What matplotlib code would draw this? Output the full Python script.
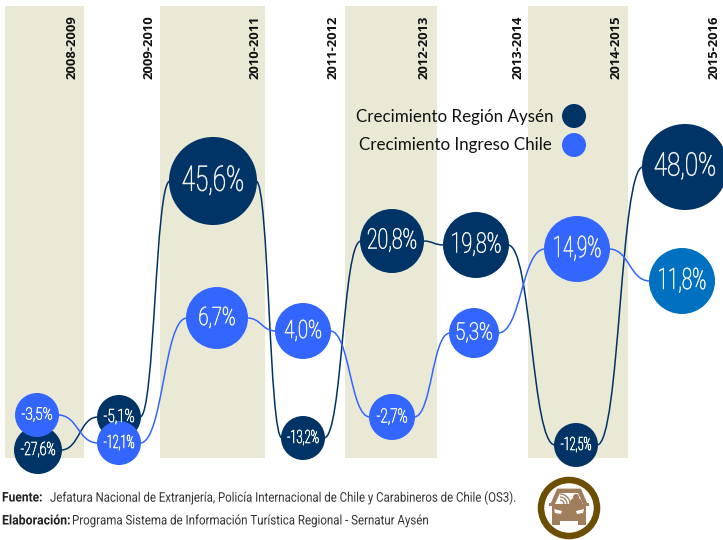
import matplotlib
matplotlib.use("Agg")
import matplotlib.pyplot as plt
from matplotlib.font_manager import FontProperties
from matplotlib.patches import Circle, Rectangle, PathPatch, FancyBboxPatch, Polygon, Wedge, Arc
from matplotlib.patheffects import AbstractPathEffect
from matplotlib.path import Path
from matplotlib.text import Text
from matplotlib.textpath import TextPath
from matplotlib.transforms import Affine2D, Bbox

periods = ["2008-2009", "2009-2010", "2010-2011", "2011-2012", "2012-2013", "2013-2014", "2014-2015", "2015-2016"]
aysen_labels = ["-27,6%", "-5,1%", "45,6%", "-13,2%", "20,8%", "19,8%", "-12,5%", "48,0%"]
chile_labels = ["-3,5%", "-12,1%", "6,7%", "4,0%", "-2,7%", "5,3%", "14,9%", "11,8%"]
# positions (chart is not on a linear value scale)
aysen_x = [38, 119, 213, 303, 392, 476, 576, 685]
aysen_level = [450, 417, 181, 438, 241, 245, 445, 167]
aysen_r = [24, 22, 44, 22, 32, 33, 22, 43]
aysen_text_h = [13, 13, 25, 13, 20, 20, 13, 23]
aysen_text_w = [34, 30, 60, 31, 48, 48, 30, 60]
chile_x = [37, 119, 217, 303, 392, 474, 577, 682]
chile_level = [415, 443, 318, 331, 417, 333, 249, 281]
chile_r = [22, 22, 31, 28, 23, 25, 33, 33]
chile_text_h = [12, 13, 18, 18, 14, 17, 21, 21]
chile_text_w = [30, 30, 35, 36, 30, 35, 46, 46]
band_edges = [(5, 84), (160, 265), (345, 437), (528, 628)]
period_x = [72, 149, 255, 333, 424, 518, 616, 714]

NAVY = "#003366"
BLUE = "#3366FF"
TEAL = "#0070C0"
BAND = "#EAE9D6"
LABEL = "#F2F4EE"
FONT = "Roboto"


class Squeeze(AbstractPathEffect):
    """Narrows a real text horizontally around a pixel anchor (no condensed font is installed)."""

    def __init__(self, anchor, sx, stroke=0.0):
        super().__init__()
        self.anchor, self.sx, self.stroke = anchor, sx, stroke

    def draw_path(self, renderer, gc, tpath, affine, rgbFace=None):
        t = Affine2D().translate(-self.anchor, 0).scale(self.sx, 1).translate(self.anchor, 0)
        g = renderer.new_gc()
        g.copy_properties(gc)
        if self.stroke:
            g.set_foreground(rgbFace)
            g.set_linewidth(self.stroke)
        renderer.draw_path(g, tpath, affine + t, rgbFace)
        g.restore()


class NarrowText(Text):
    """Text whose reported extent matches its squeezed drawing."""

    def get_window_extent(self, renderer=None, dpi=None):
        b = super().get_window_extent(renderer, dpi)
        a, s = self.narrow_anchor, self.narrow_sx
        return Bbox.from_extents(a + (b.x0 - a) * s, b.y0, a + (b.x1 - a) * s, b.y1)


def narrow_text(x, y, s, px_w, pt, ha="left", weight="normal", color="#333333", z=6, stroke=0.0):
    fp = FontProperties(family=FONT, weight=weight, size=pt)
    natural = TextPath((0, 0), s, prop=fp).get_extents().width * 100 / 72
    sx = px_w / natural
    t = NarrowText(x, y, s, fontproperties=fp, ha=ha, va="center", color=color, zorder=z,
                   path_effects=[Squeeze(x, sx, stroke)])
    t.narrow_anchor, t.narrow_sx = x, sx
    ax.add_artist(t)


fig = plt.figure(figsize=(7.23, 5.40), dpi=100)
ax = fig.add_axes([0, 0, 1, 1])
ax.set_xlim(0, 723)
ax.set_ylim(540, 0)
ax.axis("off")

for a, b in band_edges:
    ax.add_patch(Rectangle((a, 6), b - a, 452, fc=BAND, ec="none", zorder=1))


def connect(xs, ys, rs, color, z):
    for i in range(len(xs) - 1):
        x0, x1 = xs[i] + rs[i] - 1, xs[i + 1] - rs[i + 1] + 1
        dx = x1 - x0
        verts = [(x0, ys[i]), (x0 + 0.5 * dx, ys[i]), (x1 - 0.5 * dx, ys[i + 1]), (x1, ys[i + 1])]
        ax.add_patch(PathPatch(Path(verts, [Path.MOVETO] + [Path.CURVE4] * 3), fc="none", ec=color, lw=1.1, zorder=z))


connect(aysen_x, aysen_level, aysen_r, NAVY, 2)
connect(chile_x, chile_level, chile_r, BLUE, 2.1)

for x, y, r, s, h, w in zip(aysen_x, aysen_level, aysen_r, aysen_labels, aysen_text_h, aysen_text_w):
    ax.add_patch(Circle((x, y), r, fc=NAVY, ec="none", zorder=3))
    narrow_text(x, y, s, w, h / 0.711 * 0.72, ha="center", color=LABEL, weight="light", stroke=0.45)
for i, (x, y, r, s, h, w) in enumerate(zip(chile_x, chile_level, chile_r, chile_labels, chile_text_h, chile_text_w)):
    ax.add_patch(Circle((x, y), r, fc=TEAL if i == 7 else BLUE, ec="none", zorder=4))
    narrow_text(x, y, s, w, h / 0.711 * 0.72, ha="center", color=LABEL, weight="light", stroke=0.45)

for x, s in zip(period_x, periods):
    ax.text(x, 79, s, rotation=90, ha="center", va="bottom", family="Open Sans", weight="bold", fontsize=9.4, color="#111111")

# legend
ax.text(554, 117, "Crecimiento Región Aysén", ha="right", va="center", family="Lato", fontsize=12.25, color="#111111", zorder=6)
ax.text(552, 145, "Crecimiento Ingreso Chile", ha="right", va="center", family="Lato", fontsize=12.25, color="#111111", zorder=6)
ax.add_patch(Circle((574, 116), 12, fc=NAVY, ec="none", zorder=4))
ax.add_patch(Circle((574, 145), 12, fc=BLUE, ec="none", zorder=4))

# source notes
fs = 9.6
narrow_text(2, 498, "Fuente:", 39, fs, weight="bold", color="#222222")
narrow_text(50, 498, "Jefatura Nacional de Extranjería, Policía Internacional de Chile y Carabineros de Chile (OS3).", 465, fs)
narrow_text(2, 521, "Elaboración:", 67, fs, weight="bold", color="#222222")
narrow_text(72, 521, "Programa Sistema de Información Turística Regional - Sernatur Aysén", 355, fs)

# car icon
RING = "#6B4E00"
CAR = "#A07D5B"
cx, cy = 569, 508
ax.add_patch(Circle((cx, cy), 28, fc="white", ec=RING, lw=4.7, zorder=3))
ax.add_patch(Polygon([(cx - 17, cy - 4), (cx - 11, cy - 18), (cx + 11, cy - 18), (cx + 17, cy - 4)], fc=CAR, ec=CAR, lw=2, joinstyle="round", zorder=4))
ax.add_patch(FancyBboxPatch((cx - 17, cy - 4), 34, 17, boxstyle="round,pad=0,rounding_size=3", fc=CAR, ec="none", zorder=4))
ax.add_patch(Rectangle((cx - 17, cy + 10), 8, 7, fc=CAR, ec="none", zorder=4))
ax.add_patch(Rectangle((cx + 9, cy + 10), 8, 7, fc=CAR, ec="none", zorder=4))
ax.add_patch(Rectangle((cx - 20, cy - 5), 4, 3, fc=CAR, ec="none", zorder=4))
ax.add_patch(Rectangle((cx + 16, cy - 5), 4, 3, fc=CAR, ec="none", zorder=4))
ax.add_patch(Polygon([(cx - 14, cy - 4), (cx - 9, cy - 15), (cx + 9, cy - 15), (cx + 14, cy - 4)], fc="white", ec="none", zorder=5))
ax.add_patch(Circle((cx + 7, cy - 11), 3, fc=CAR, ec="none", zorder=6))
ax.add_patch(Wedge((cx + 7, cy - 4), 6.5, 180, 360, fc=CAR, ec="none", zorder=6))
for rr in (4, 7, 10):
    ax.add_patch(Arc((cx - 9, cy - 4), rr * 2, rr * 2, theta1=270, theta2=360, ec=CAR, lw=0.9, zorder=6))
ax.add_patch(Polygon([(cx - 15, cy + 1), (cx - 7, cy + 3), (cx - 8, cy + 6), (cx - 14, cy + 5)], fc="white", ec="none", zorder=6))
ax.add_patch(Polygon([(cx + 15, cy + 1), (cx + 7, cy + 3), (cx + 8, cy + 6), (cx + 14, cy + 5)], fc="white", ec="none", zorder=6))

fig.savefig("out.png", dpi=100)
